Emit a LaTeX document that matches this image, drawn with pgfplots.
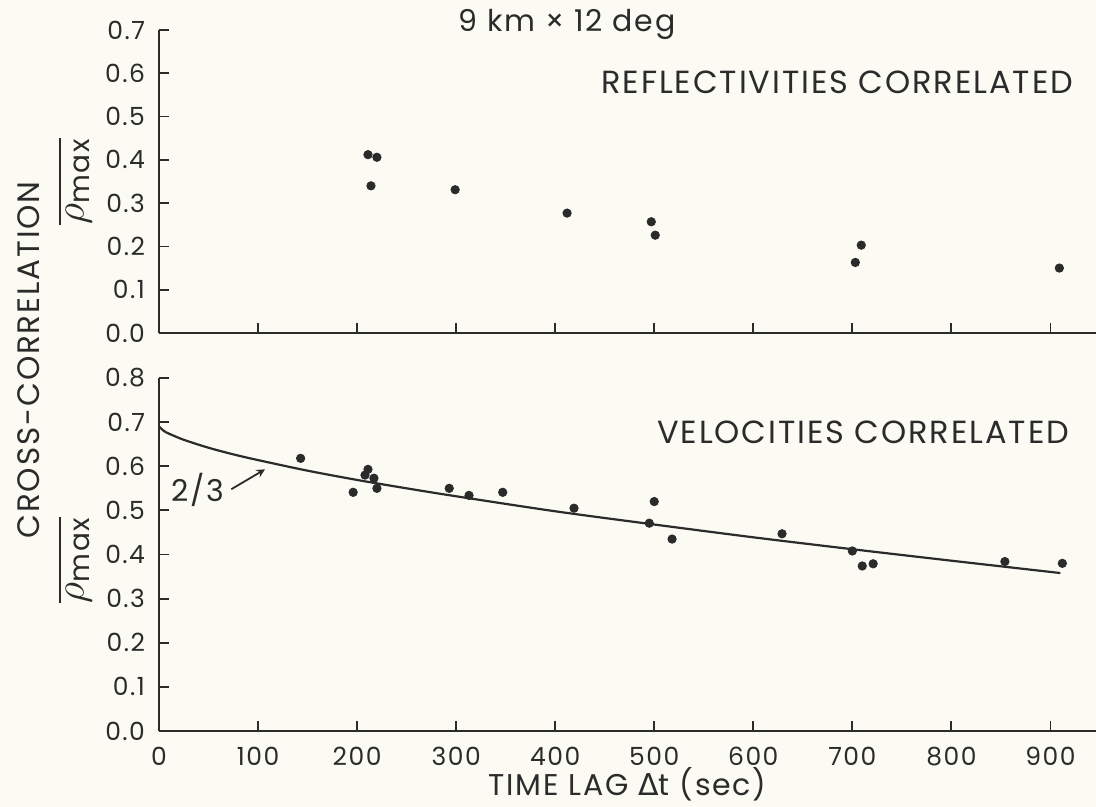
\documentclass[border=0pt]{standalone}
\usepackage{fontspec}
\usepackage{amsmath}
\usepackage{pgfplots}
\pgfplotsset{compat=1.18}
\setmainfont{Poppins}[LetterSpace=6]
\newfontfamily\greekfont{DejaVu Sans}
\definecolor{ink}{HTML}{2B2B2B}
\definecolor{paper}{HTML}{FBFBF4}

% shared look of both panels
\pgfplotsset{
  panel/.style={
    scale only axis,
    width=468.5pt,
    xmin=0, xmax=946,
    xtick={0,100,...,900},
    axis x line*=bottom,
    axis y line*=left,
    tick align=inside,
    major tick length=5pt,
    axis line style={ink, line width=0.9pt},
    tick style={ink, line width=0.9pt},
    ticklabel style={ink, font=\fontsize{12.5}{14}\selectfont},
    yticklabel style={xshift=-3.5pt, /pgf/number format/.cd, fixed, fixed zerofill, precision=1},
    xticklabel style={yshift=-4.5pt},
    /pgf/number format/assume math mode=true,
    ylabel style={ink, font=\fontsize{20}{22}\selectfont, anchor=center},
    clip=false,
  },
  dots/.style={only marks, mark=*, mark size=2.1pt, color=ink},
}

\begin{document}
\begin{tikzpicture}
\fill[paper] (0,0) rectangle (548pt,-403.5pt);
\useasboundingbox (0,0) rectangle (548pt,-403.5pt);

\node[ink, font=\fontsize{15}{17}\selectfont] at (283.5pt,-12pt) {9 km × 12 deg};
\node[ink, rotate=90, font=\fontsize{15.5}{17}\selectfont] at (14.5pt,-180pt) {CROSS-CORRELATION};

% upper panel: reflectivities
\begin{axis}[panel,
  at={(79.5pt,-166.5pt)}, anchor=south west,
  height=151.5pt,
  ymin=0, ymax=0.7,
  ytick={0,0.1,...,0.7},
  xticklabels={},
  ylabel={$\overline{\rho_{\textnormal{max}}}$},
  ylabel style={at={(axis description cs:-0.09,0.5)}},
]
\addplot[dots] coordinates {
  (211,0.412)(220,0.406)(214,0.340)(299,0.331)(412,0.277)
  (497,0.257)(501,0.226)(709,0.203)(703,0.163)(909,0.150)
};
\node[ink, anchor=east, font=\fontsize{16}{18}\selectfont] at (axis cs:930,0.579) {REFLECTIVITIES CORRELATED};
\end{axis}

% lower panel: velocities
\begin{axis}[panel,
  at={(79.5pt,-365.5pt)}, anchor=south west,
  height=176.5pt,
  ymin=0, ymax=0.8,
  ytick={0,0.1,...,0.8},
  ylabel={$\overline{\rho_{\textnormal{max}}}$},
  ylabel style={at={(axis description cs:-0.09,0.484)}},
  xlabel={TIME LAG {\greekfont Δ}t (sec)},
  xlabel style={ink, font=\fontsize{15}{17}\selectfont, at={(axis description cs:0.5,0)}, anchor=center, yshift=-26.5pt},
]
\addplot[dots] coordinates {
  (143,0.618)(196,0.541)(211,0.593)(208,0.580)(217,0.573)(220,0.550)
  (293,0.550)(313,0.534)(347,0.541)(419,0.505)(495,0.471)(500,0.520)
  (518,0.435)(629,0.447)(700,0.408)(710,0.374)(721,0.379)(854,0.384)
  (912,0.380)
};
% two-thirds power law fit
\addplot[ink, line width=1.1pt, smooth] coordinates {
  (0,0.690)(5,0.680)(10,0.674)(25,0.660)(50,0.642)(75,0.627)(100,0.614)
  (150,0.590)(200,0.569)(250,0.550)(300,0.532)(400,0.498)(500,0.468)
  (600,0.439)(700,0.412)(800,0.386)(910,0.358)
};
\node[ink, anchor=east, font=\fontsize{16}{18}\selectfont] at (axis cs:926,0.678) {VELOCITIES CORRELATED};
\draw[ink, line width=0.9pt, -stealth] (axis cs:73,0.548) -- (axis cs:107,0.593);
\node[ink, anchor=east, font=\fontsize{15}{17}\selectfont] at (axis cs:73,0.547) {2/3};
\end{axis}
\end{tikzpicture}
\end{document}
